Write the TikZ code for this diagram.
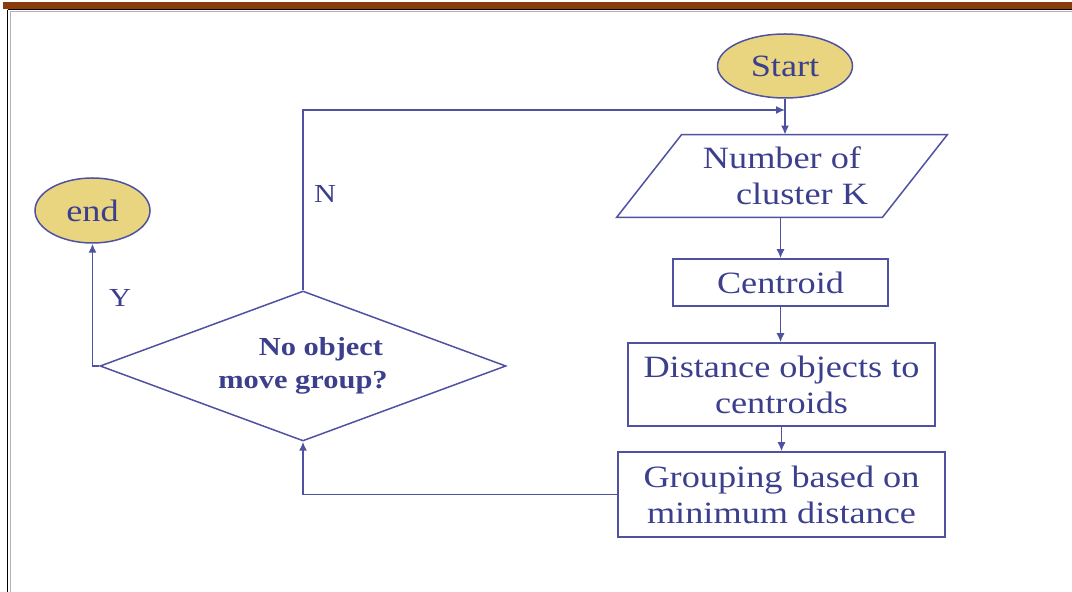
\documentclass[tikz,border=0pt]{standalone}
\usepackage{fontspec}
\setmainfont{Liberation Serif}[FakeStretch=1.17]
\usetikzlibrary{shapes.geometric,arrows.meta,calc}

\definecolor{flowline}{HTML}{4F52A0}
\definecolor{flowtext}{HTML}{3C3F8C}
\definecolor{termfill}{HTML}{E9D57F}
\definecolor{barbrown}{HTML}{8B3C0C}

\tikzset{
  flow/.style={draw=flowline, line width=0.75pt},
  arrowline/.style={flow, -{Latex[length=4.5pt,width=4pt]}},
  terminal/.style={ellipse, flow, fill=termfill, text=flowtext, inner sep=0pt,
    font=\fontsize{15.5}{18}\selectfont},
  procbox/.style={rectangle, flow, text=flowtext, inner sep=0pt, align=center,
    font=\fontsize{15.5}{18}\selectfont},
  iobody/.style={rectangle, text=flowtext, inner sep=0pt, align=center,
    font=\fontsize{15.5}{18}\selectfont},
  decision/.style={diamond, shape aspect=2.7, flow, text=flowtext, inner sep=0pt, align=center,
    font=\bfseries\fontsize{13}{16.5}\selectfont},
  branchlabel/.style={text=flowtext, inner sep=0pt, font=\fontsize{13}{15}\selectfont}
}

\begin{document}
\begin{tikzpicture}[x=0.5pt,y=-0.5pt]
  \useasboundingbox (0,0) rectangle (1072,592);

  % page frame: brown header bar and black rules
  \fill[barbrown] (3,2) rectangle (1072,9);
  \draw[gray!60, line width=0.5pt] (10,12) -- (1072,12);
  \draw[gray!60, line width=0.5pt] (10,12) -- (10,592);
  \draw[black, line width=0.7pt] (7.5,9.7) -- (1072,9.7);
  \draw[black, line width=0.7pt] (7.5,9.7) -- (7.5,592);

  % flowchart nodes
  \node[terminal, minimum width=67.5pt, minimum height=32pt] (start) at (785,66) {Start};

  \node[iobody, minimum width=100pt, minimum height=41pt] (numk) at (782,176) {Number of\\\hspace*{20pt}cluster K};
  \draw[flow] ([xshift=-32.5pt]numk.south west) -- (numk.north west)
    -- ([xshift=32.5pt]numk.north east) -- (numk.south east) -- cycle;

  \node[procbox, minimum width=107.5pt, minimum height=23.5pt] (cent) at (780.5,282.5) {Centroid};
  \node[procbox, minimum width=153.5pt, minimum height=41.5pt] (dist) at (781.5,384.5) {Distance objects to\\centroids};
  \node[procbox, minimum width=163.5pt, minimum height=42.5pt] (grp) at (781.5,494.5) {Grouping based on\\minimum distance};

  \node[decision, minimum width=203pt, minimum height=75pt] (dec) at (303,366) {\hspace*{18pt}No object\\move group?};

  \node[terminal, minimum width=57.5pt, minimum height=32.5pt] (end) at (92.5,210.5) {end};

  \node[branchlabel] (ylab) at (120,298) {Y};
  \node[branchlabel] (nlab) at (325,194) {N};

  \coordinate (loopin) at (785,110);

  % connectors
  \draw[arrowline] (start.south) -- (start.south |- numk.north);
  \draw[arrowline] (cent.north |- numk.south) -- (cent.north);
  \draw[arrowline] (cent.south) -- (cent.south |- dist.north);
  \draw[arrowline] (dist.south) -- (dist.south |- grp.north);
  \draw[arrowline] (grp.west) -| (dec.south);
  \draw[arrowline] (dec.north) |- (loopin);
  \draw[arrowline] (dec.west) -| (end.south);
\end{tikzpicture}
\end{document}
